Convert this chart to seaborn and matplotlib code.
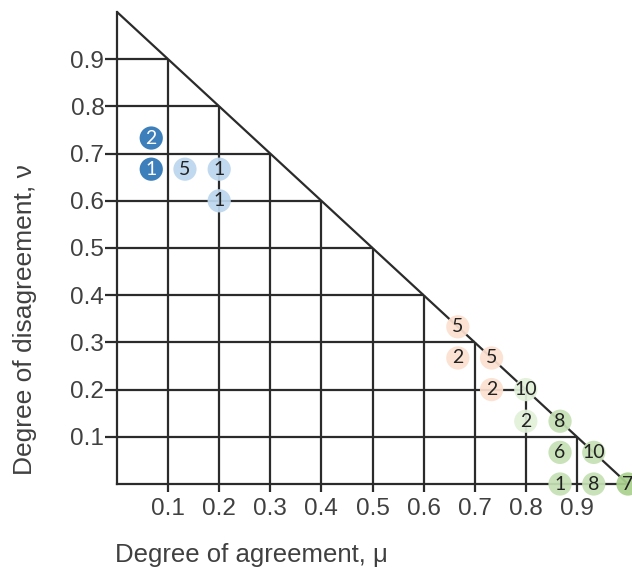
import numpy as np
import pandas as pd
import matplotlib
matplotlib.use("Agg")
import matplotlib.pyplot as plt
import seaborn as sns

# points: degree of agreement (mu), disagreement (nu), count label, colour group
mu = [0.067, 0.067, 0.133, 0.2, 0.2, 0.667, 0.667, 0.733, 0.733, 0.8, 0.8,
      0.867, 0.867, 0.933, 0.867, 0.933, 1.0]
nu = [0.733, 0.667, 0.667, 0.667, 0.6, 0.333, 0.267, 0.267, 0.2, 0.2, 0.133,
      0.133, 0.067, 0.067, 0.0, 0.0, 0.0]
counts = [2, 1, 5, 1, 1, 5, 2, 5, 2, 10, 2, 8, 6, 10, 1, 8, 7]
groups = ["dark blue", "dark blue", "light blue", "light blue", "light blue",
          "peach", "peach", "peach", "peach", "pale green", "pale green",
          "green", "green", "green", "green", "green", "dark green"]

grid_vals = [0.1, 0.2, 0.3, 0.4, 0.5, 0.6, 0.7, 0.8, 0.9]
tick_labels = ["0.1", "0.2", "0.3", "0.4", "0.5", "0.6", "0.7", "0.8", "0.9"]

palette = {"dark blue": "#2E75B6", "light blue": "#BDD7EE", "peach": "#FBE0D0",
           "pale green": "#E2F0D9", "green": "#C5E0B4", "dark green": "#A9D18E"}

df = pd.DataFrame({"mu": mu, "nu": nu, "n": counts, "group": groups})

sns.set_style("white")
plt.rcParams["font.family"] = ["Liberation Sans", "DejaVu Sans"]

W, H = 632, 575
fig = plt.figure(figsize=(W / 100, H / 100), dpi=100)
x0, y0 = 117, 484          # pixel position of origin
sx, sy = 511, 472          # pixels per unit
ax = fig.add_axes([x0 / W, (H - y0) / H, (W - x0) / W, y0 / H])
ax.set_xlim(0, (W - x0) / sx)
ax.set_ylim(0, y0 / sy)

line_c = "#2b2b2b"
lw = 1.6
g = np.array(grid_vals)
ax.vlines(g, 0, 1 - g, color=line_c, lw=lw, zorder=1)
ax.hlines(g, 0, 1 - g, color=line_c, lw=lw, zorder=1)
ax.plot([0, 1], [1, 0], color=line_c, lw=lw, zorder=1)

for s in ["top", "right"]:
    ax.spines[s].set_visible(False)
ax.spines["left"].set_bounds(0, 1)
ax.spines["bottom"].set_bounds(0, 1)
for s in ["left", "bottom"]:
    ax.spines[s].set_color(line_c)
    ax.spines[s].set_linewidth(lw)

ax.set_xticks(grid_vals)
ax.set_xticklabels(tick_labels)
ax.set_yticks(grid_vals)
ax.set_yticklabels(tick_labels)
ax.tick_params(axis="x", bottom=True, direction="out", length=6, width=lw,
               color=line_c, labelsize=17.5, labelcolor="#404040", pad=4)
ax.tick_params(axis="y", left=True, direction="out", length=8.6, width=lw,
               color=line_c, labelsize=17.5, labelcolor="#404040", pad=0.5)

sns.scatterplot(data=df, x="mu", y="nu", hue="group", palette=palette,
                s=280, linewidth=0, alpha=0.93, legend=False, ax=ax,
                zorder=3, clip_on=False)
for xi, yi, n, gr in zip(mu, nu, counts, groups):
    ax.text(xi, yi, str(n), ha="center", va="center", fontsize=14,
            family=["Lato", "DejaVu Sans"],
            color="white" if gr == "dark blue" else "#222222",
            zorder=4, clip_on=False)

ax.set_xlabel("")
ax.set_ylabel("")
fig.text(115 / W, 1 - 555 / H, "Degree of agreement, μ", ha="left",
         va="center", fontsize=18.5, color="#404040")
fig.text(25 / W, 1 - 320 / H, "Degree of disagreement, ν", ha="center",
         va="center", rotation=90, fontsize=19, color="#404040")

fig.savefig("out.png", dpi=100)
